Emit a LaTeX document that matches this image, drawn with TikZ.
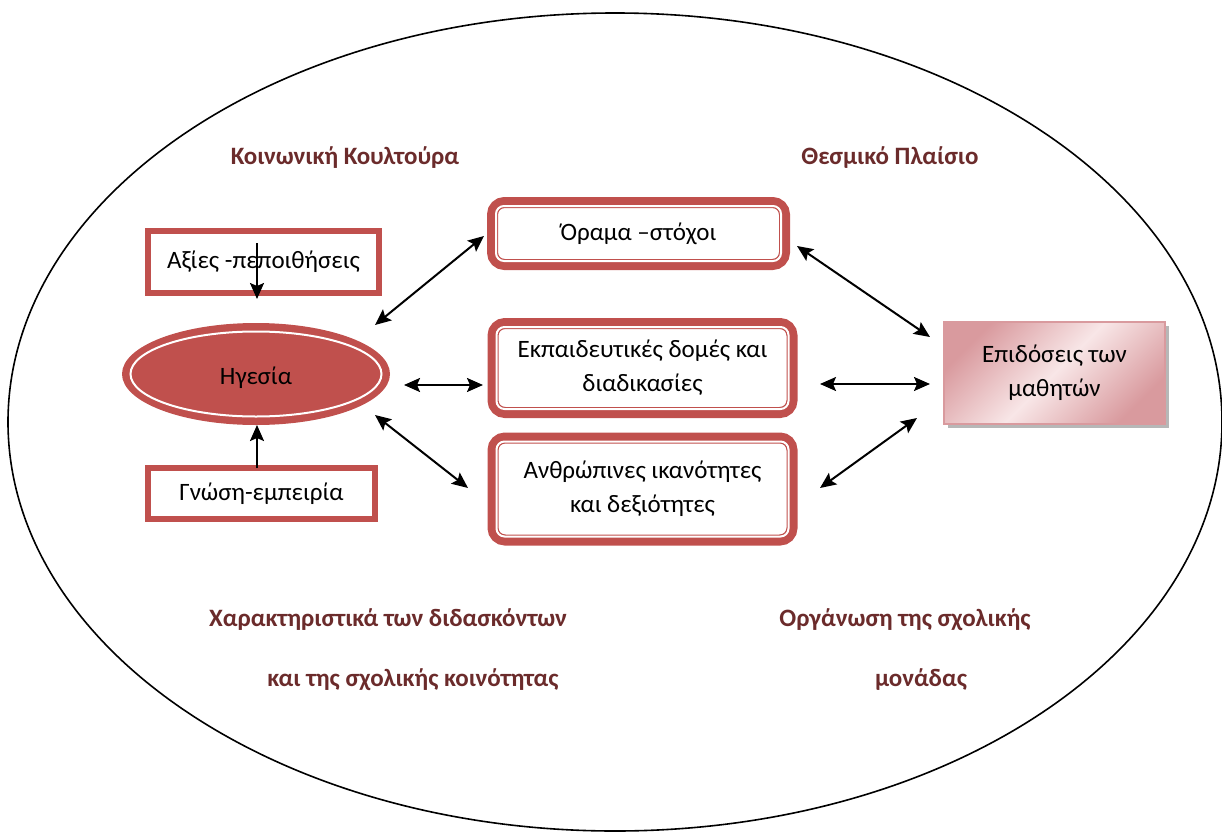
\documentclass[tikz,border=0pt]{standalone}
\usepackage{fontspec}
\setmainfont{Carlito}
\usetikzlibrary{arrows.meta,shapes.geometric,shadows}
\definecolor{boxred}{HTML}{C0504D}
\definecolor{titred}{HTML}{6B2B2B}
\definecolor{pinkD}{HTML}{D99A9E}
\definecolor{pinkL}{HTML}{F8E6E7}
\begin{document}
\begin{tikzpicture}[x=1pt,y=-1pt,
  title/.style={font=\fontsize{25}{30}\selectfont\bfseries, text=titred},
  sqbox/.style={draw=boxred, line width=6pt, inner sep=0pt, font=\fontsize{25}{30}\selectfont},
  rbox/.style={draw=boxred, line width=11pt, rounded corners=12pt, inner sep=0pt, align=center, font=\fontsize{25}{34}\selectfont},
  inline/.style={white, line width=2pt, rounded corners=8pt},
  tip/.tip={Stealth[length=16pt,width=14pt,inset=3pt]},
  link/.style={line width=2pt, tip-tip},
  feed/.style={line width=2pt, -tip}]
\useasboundingbox (0,0) rectangle (1222,832);
\draw[line width=1.6pt] (615,422) ellipse [x radius=607pt, y radius=409pt];

% titles
\node[title] (t1) at (345,158) {Κοινωνική Κουλτούρα};
\node[title] (t2) at (890,158) {Θεσμικό Πλαίσιο};
\node[title] (t3) at (388,620) {Χαρακτηριστικά των διδασκόντων};
\node[title] (t4) at (413,680) {και της σχολικής κοινότητας};
\node[title] (t5) at (905,620) {Οργάνωση της σχολικής};
\node[title] (t6) at (921,680) {μονάδας};

% left column
\node[sqbox, minimum width=231pt, minimum height=62pt] (ax) at (263.5,262) {Αξίες -πεποιθήσεις};
\node[sqbox, minimum width=227pt, minimum height=51pt] (gn) at (261.5,493.5) {Γνώση-εμπειρία};
\node[ellipse, fill=boxred, minimum width=268pt, minimum height=102pt, inner sep=0pt] (h) at (256,374) {};
\node[font=\fontsize{25}{30}\selectfont] (ht) at (256,378) {Ηγεσία};
\draw[white, line width=2pt] (h.center) ellipse [x radius=125.5pt, y radius=42.5pt];

% middle boxes
\node[rbox, minimum width=292pt, minimum height=62pt] (b1) at (638.5,233.5) {Όραμα –στόχοι};
\node[rbox, minimum width=299pt, minimum height=89pt] (b2) at (642.5,368) {Εκπαιδευτικές δομές και\\διαδικασίες};
\node[rbox, minimum width=299pt, minimum height=102pt] (b3) at (642.5,489) {Ανθρώπινες ικανότητες\\και δεξιότητες};
\foreach \b in {b1,b2,b3}
  \draw[inline] ([xshift=9pt,yshift=-9pt]\b.north west) rectangle ([xshift=-9pt,yshift=9pt]\b.south east);

% right box
\node[draw=pinkD, line width=1.5pt, shading=axis, left color=pinkD, right color=pinkD, middle color=pinkL,
      shading angle=45, minimum width=221pt, minimum height=102pt, align=center,
      font=\fontsize{25}{34}\selectfont,
      drop shadow={shadow xshift=4pt, shadow yshift=-4pt, fill=black!40, opacity=0.7}] (ep) at (1054.5,373) {Επιδόσεις των\\μαθητών};

% arrow end points
\coordinate (p1) at (375,325); \coordinate (q1) at (484,236);
\coordinate (p2) at (404,385); \coordinate (q2) at (483,385);
\coordinate (p3) at (375,415); \coordinate (q3) at (468,488);
\coordinate (p4) at (797,246); \coordinate (q4) at (930,337);
\coordinate (p5) at (820,384); \coordinate (q5) at (930,384);
\coordinate (p6) at (820,488); \coordinate (q6) at (917,418);
\coordinate (v1s) at (257,243); \coordinate (v1e) at (257,299);
\coordinate (v2s) at (257,468); \coordinate (v2e) at (257,425);

\draw[link] (p1) -- (q1);
\draw[link] (p2) -- (q2);
\draw[link] (p3) -- (q3);
\draw[link] (p4) -- (q4);
\draw[link] (p5) -- (q5);
\draw[link] (p6) -- (q6);
\draw[feed] (v1s) -- (v1e);
\draw[feed] (v2s) -- (v2e);
\end{tikzpicture}
\end{document}
